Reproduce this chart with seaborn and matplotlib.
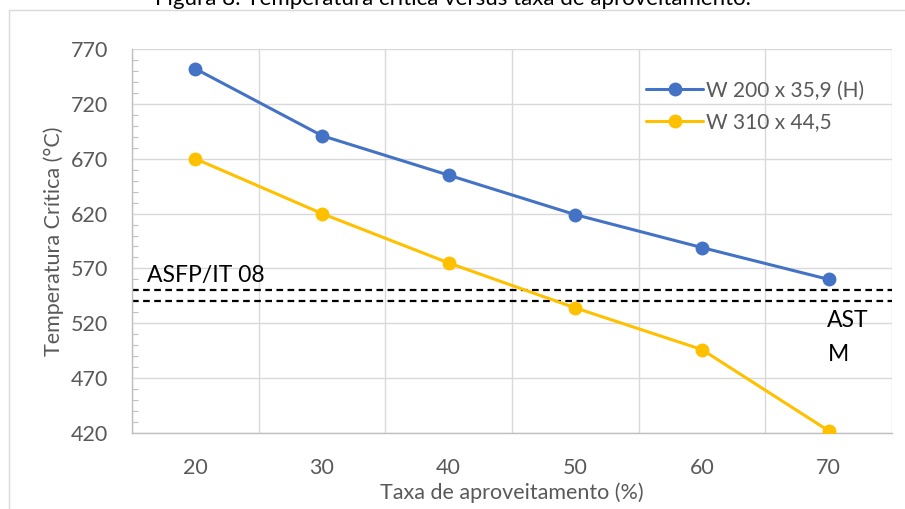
import numpy as np
import pandas as pd
import matplotlib
matplotlib.use("Agg")
import matplotlib.pyplot as plt
from matplotlib.patches import Rectangle
from matplotlib.ticker import MultipleLocator
import seaborn as sns

# dados
taxa = [20, 30, 40, 50, 60, 70]
w200 = [752, 691, 655, 619, 589, 560]
w310 = [670, 620, 575, 534, 496, 422]
series_names = ["W 200 x 35,9 (H)", "W 310 x 44,5"]
limite_asfp = 550
limite_astm = 540
y_ticks = [420, 470, 520, 570, 620, 670, 720, 770]

df = pd.DataFrame({
    "taxa": taxa * 2,
    "temp": w200 + w310,
    "perfil": [series_names[0]] * len(taxa) + [series_names[1]] * len(taxa),
})

sns.set_theme(style="white")
plt.rcParams["font.family"] = ["Lato", "DejaVu Sans"]

fig = plt.figure(figsize=(9.05, 5.09), dpi=100)
ax = fig.add_axes([132 / 905, 1 - 433 / 509, 760 / 905, 384 / 509])

palette = {series_names[0]: "#4472C4", series_names[1]: "#FFC000"}
sns.lineplot(data=df, x="taxa", y="temp", hue="perfil", palette=palette,
             marker="o", markersize=10, markeredgewidth=0, linewidth=2.2,
             ax=ax, zorder=3)

# linhas de referencia
ax.axhline(limite_asfp, color="black", linestyle=(0, (3, 2)), linewidth=1.6, zorder=2)
ax.axhline(limite_astm, color="black", linestyle=(0, (3, 2)), linewidth=1.6, zorder=2)
ax.text(16.2, limite_asfp + 4, "ASFP/IT 08", fontsize=16.5, color="black", va="bottom", ha="left")
ax.text(69.9, limite_astm - 8, "AST\nM", fontsize=16.5, color="black", va="top", ha="left",
        linespacing=1.75)

# eixos
ax.set_xlim(15, 75)
ax.set_ylim(420, 770)
ax.set_xticks(taxa)
ax.xaxis.set_minor_locator(MultipleLocator(10, offset=5))
ax.set_yticks(y_ticks)
ax.yaxis.set_minor_locator(MultipleLocator(10))
ax.grid(True, which="major", axis="y", color="#D9D9D9", linewidth=1)
ax.grid(True, which="minor", axis="x", color="#D9D9D9", linewidth=1)
ax.tick_params(axis="both", which="major", length=0, labelsize=15.5, labelcolor="#595959")
ax.tick_params(axis="y", which="major", pad=17)
ax.tick_params(axis="x", which="major", pad=18)
ax.tick_params(axis="y", which="minor", direction="in", length=4, width=0.8,
               color="#BFBFBF", left=True)
ax.tick_params(axis="x", which="minor", length=0)

for side in ["top", "right"]:
    ax.spines[side].set_visible(False)
for side in ["left", "bottom"]:
    ax.spines[side].set_color("#BFBFBF")
    ax.spines[side].set_linewidth(1)

ax.set_xlabel("Taxa de aproveitamento (%)", fontsize=15.5, color="#595959", labelpad=3)
ax.set_ylabel("Temperatura Crítica (°C)", fontsize=15.5, color="#595959", labelpad=5)

leg = ax.legend(loc="upper left", bbox_to_anchor=(636 / 905, 1 - 70 / 509),
                bbox_transform=fig.transFigure, frameon=False, fontsize=15,
                handlelength=2.7, handletextpad=0.15, labelspacing=0.55, borderpad=0)
for t in leg.get_texts():
    t.set_color("#595959")

# moldura do grafico e titulo cortado
fig.patches.append(Rectangle((9 / 905, -0.1), 1.2, 1.1 - 10 / 509,
                             transform=fig.transFigure, fill=False,
                             edgecolor="#D9D9D9", linewidth=1))
fig.text(0.5, 1 - 5 / 509, "Figura 8: Temperatura crítica versus taxa de aproveitamento.",
         ha="center", va="baseline", fontsize=16, color="black")

fig.savefig("out.png", dpi=100)
